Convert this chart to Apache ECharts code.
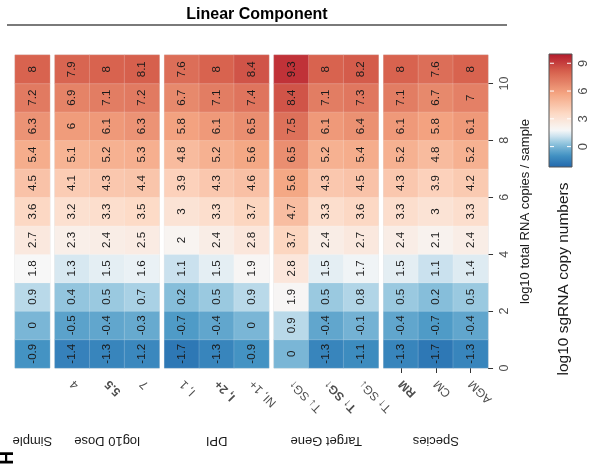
<!DOCTYPE html>
<html><head><meta charset="utf-8">
<script src="https://cdn.jsdelivr.net/npm/echarts@6/dist/echarts.min.js"></script>
<style>html,body{margin:0;padding:0;background:#fff}#c{width:590px;height:465px}</style>
</head><body><div id="c"></div>
<script>
// ---------- data ----------
const rowCats = ['0','1','2','3','4','5','6','7','8','9','10'];
const facetNames = ['Simple', 'log10 Dose', 'DPI', 'Target Gene', 'Species'];
const simpleCats = [''];
const doseCats = ['4', '5.5', '7'];
const dpiCats = ['I, 1', 'I, 2+', 'NI, 1+'];
const targetCats = ['T↓ SG↑', 'T↑ SG↑', 'T↑ SG↓'];
const speciesCats = ['RM', 'CM', 'AGM'];
const boldCats = ['5.5', 'I, 2+', 'T↑ SG↑', 'RM'];
// values from bottom row (0) to top row (10)
const simpleVals = [[-0.9, 0, 0.9, 1.8, 2.7, 3.6, 4.5, 5.4, 6.3, 7.2, 8]];
const doseVals = [
  [-1.4, -0.5, 0.4, 1.3, 2.3, 3.2, 4.1, 5.1, 6, 6.9, 7.9],
  [-1.3, -0.4, 0.5, 1.5, 2.4, 3.3, 4.3, 5.2, 6.1, 7.1, 8],
  [-1.2, -0.3, 0.7, 1.6, 2.5, 3.5, 4.4, 5.3, 6.3, 7.2, 8.1]
];
const dpiVals = [
  [-1.7, -0.7, 0.2, 1.1, 2, 3, 3.9, 4.8, 5.8, 6.7, 7.6],
  [-1.3, -0.4, 0.5, 1.5, 2.4, 3.3, 4.3, 5.2, 6.1, 7.1, 8],
  [-0.9, 0, 0.9, 1.9, 2.8, 3.7, 4.6, 5.6, 6.5, 7.4, 8.4]
];
const targetVals = [
  [0, 0.9, 1.9, 2.8, 3.7, 4.7, 5.6, 6.5, 7.5, 8.4, 9.3],
  [-1.3, -0.4, 0.5, 1.5, 2.4, 3.3, 4.3, 5.2, 6.1, 7.1, 8],
  [-1.1, -0.1, 0.8, 1.7, 2.7, 3.6, 4.5, 5.4, 6.4, 7.3, 8.2]
];
const speciesVals = [
  [-1.3, -0.4, 0.5, 1.5, 2.4, 3.3, 4.3, 5.2, 6.1, 7.1, 8],
  [-1.7, -0.7, 0.2, 1.1, 2.1, 3, 3.9, 4.8, 5.8, 6.7, 7.6],
  [-1.3, -0.4, 0.5, 1.4, 2.4, 3.3, 4.2, 5.2, 6.1, 7, 8]
];
const yTicks = [0, 2, 4, 6, 8, 10];
const legendTicks = [0, 3, 6, 9];
const colorMin = -2.2, colorMax = 10;

// ---------- styling ----------
const FONT = '"Liberation Sans", Arial, Helvetica, sans-serif';
const colorStops = [
  [-2.2, [33, 102, 172]], [-0.9, [67, 147, 195]], [0.4, [146, 197, 222]],
  [1.2, [209, 229, 240]], [1.8, [247, 247, 247]], [3.5, [253, 219, 199]],
  [5.7, [244, 165, 130]], [8.1, [214, 96, 77]], [10, [178, 24, 43]]
];
function colorAt(v) {
  if (v <= colorStops[0][0]) return colorStops[0][1];
  for (let i = 1; i < colorStops.length; i++) {
    if (v <= colorStops[i][0]) {
      const a = colorStops[i-1], b = colorStops[i];
      const t = (v - a[0]) / (b[0] - a[0]);
      return a[1].map((c, k) => Math.round(c + t * (b[1][k] - c)));
    }
  }
  return colorStops[colorStops.length-1][1];
}
const rgb = c => 'rgb(' + c.join(',') + ')';
const N = 120;
const rangeColors = [];
for (let i = 0; i < N; i++) rangeColors.push(rgb(colorAt(colorMin + (colorMax - colorMin) * i / (N - 1))));

const panels = [
  {cats: simpleCats, vals: simpleVals, name: facetNames[0]},
  {cats: doseCats, vals: doseVals, name: facetNames[1]},
  {cats: dpiCats, vals: dpiVals, name: facetNames[2]},
  {cats: targetCats, vals: targetVals, name: facetNames[3]},
  {cats: speciesCats, vals: speciesVals, name: facetNames[4]}
];
const colW = 34.85, gapW = 5, x0 = 15, panelTop = 55, panelH = 313;

const grids = [], xAxes = [], yAxes = [], series = [];
let xLeft = x0;
panels.forEach((p, i) => {
  const w = colW * p.cats.length;
  grids.push({left: xLeft, top: panelTop, width: w, height: panelH, show: true, borderColor: '#dcdcdc', borderWidth: 1, backgroundColor: '#ebebeb'});
  xLeft += w + gapW;
  const isLast = i === panels.length - 1;
  xAxes.push({
    type: 'category', gridIndex: i, data: p.cats, position: 'bottom',
    axisLine: {show: false},
    axisTick: {show: isLast, alignWithLabel: true, length: 5, lineStyle: {color: '#333', width: 1}},
    splitLine: {show: false},
    axisLabel: {
      rotate: 135, align: 'right', verticalAlign: 'middle', margin: 14,
      fontFamily: FONT, fontSize: 12, color: '#4d4d4d',
      formatter: v => boldCats.includes(v) ? '{b|' + v + '}' : v,
      rich: {b: {fontWeight: 'bold', fontFamily: FONT, fontSize: 12, color: '#4d4d4d'}}
    },
    name: p.name, nameLocation: 'middle', nameGap: 66, nameRotate: 180,
    nameTextStyle: {fontFamily: FONT, fontSize: 13, color: '#1a1a1a'}
  });
  yAxes.push({
    type: 'category', gridIndex: i, data: rowCats,
    axisLine: {show: false}, axisTick: {show: false}, axisLabel: {show: false}, splitLine: {show: false}
  });
  const data = [];
  p.vals.forEach((col, ci) => col.forEach((v, ri) => data.push([ci, ri, v])));
  series.push({
    type: 'heatmap', xAxisIndex: i, yAxisIndex: i, data: data,
    itemStyle: {borderColor: 'rgba(255,255,255,0.35)', borderWidth: 0.5},
    label: {show: true, rotate: 90, fontFamily: FONT, fontSize: 11.5, color: '#1a1a1a',
      formatter: prm => String(prm.value[2])},
    emphasis: {disabled: true}
  });
});
// right value axis on the last panel
yAxes.push({
  type: 'value', gridIndex: panels.length - 1, position: 'right', min: 0, max: 11,
  axisLine: {show: false}, splitLine: {show: false},
  axisTick: {show: true, length: 5, customValues: yTicks, lineStyle: {color: '#333'}},
  axisLabel: {show: true, customValues: yTicks, rotate: 90, margin: 10, fontFamily: FONT, fontSize: 12.5, color: '#4d4d4d'},
  name: 'log10 total RNA copies / sample', nameLocation: 'middle', nameRotate: 90, nameGap: 31,
  nameTextStyle: {fontFamily: FONT, fontSize: 13, color: '#1a1a1a'}
});
// colour bar grid
const cbIndex = grids.length;
grids.push({left: 549, top: 54, width: 23, height: 113});
xAxes.push({type: 'category', gridIndex: cbIndex, data: ['bar'], show: false});
const cbY = yAxes.length;
yAxes.push({
  type: 'value', gridIndex: cbIndex, position: 'right', min: colorMin, max: colorMax,
  axisLine: {show: false}, splitLine: {show: false}, axisTick: {show: false},
  axisLabel: {show: true, customValues: legendTicks, rotate: 90, margin: 5, fontFamily: FONT, fontSize: 13, color: '#4d4d4d'}
});
const gradStops = [];
for (let i = 0; i <= 40; i++) {
  const v = colorMax - (colorMax - colorMin) * i / 40;
  gradStops.push({offset: i / 40, color: rgb(colorAt(v))});
}
series.push({
  type: 'custom', xAxisIndex: cbIndex, yAxisIndex: cbY, data: [[0, colorMax]],
  silent: true,
  renderItem: (params, api) => {
    const pTop = api.coord([0, colorMax]);
    const pBot = api.coord([0, colorMin]);
    const bw = api.size([1, 0])[0];
    const x = pTop[0] - bw / 2;
    const children = [{
      type: 'rect', shape: {x: x, y: pTop[1], width: bw, height: pBot[1] - pTop[1]},
      style: {fill: {type: 'linear', x: 0, y: 0, x2: 0, y2: 1, colorStops: gradStops}, stroke: '#555', lineWidth: 1}
    }];
    legendTicks.forEach(t => {
      const py = api.coord([0, t])[1];
      children.push({type: 'line', shape: {x1: x + 1, y1: py, x2: x + 5, y2: py}, style: {stroke: '#fff', lineWidth: 1}});
      children.push({type: 'line', shape: {x1: x + bw - 5, y1: py, x2: x + bw - 1, y2: py}, style: {stroke: '#fff', lineWidth: 1}});
    });
    return {type: 'group', children: children};
  }
});

const chart = echarts.init(document.getElementById('c'), null, {renderer: 'canvas'});
chart.setOption({
  animation: false,
  backgroundColor: '#fff',
  textStyle: {fontFamily: FONT},
  grid: grids, xAxis: xAxes, yAxis: yAxes, series: series,
  visualMap: {
    type: 'continuous', show: false, min: colorMin, max: colorMax, dimension: 2,
    seriesIndex: panels.map((p, i) => i), inRange: {color: rangeColors}
  },
  graphic: [
    {type: 'text', x: 257, y: 15, style: {text: 'Linear Component', align: 'center', verticalAlign: 'middle', fontFamily: FONT, fontSize: 16, fontWeight: 'bold', fill: '#000'}},
    {type: 'line', shape: {x1: 7, y1: 25, x2: 507, y2: 25}, style: {stroke: '#7a7a7a', lineWidth: 2}},
    {type: 'text', x: 564, y: 279, rotation: Math.PI / 2, style: {text: 'log10 sgRNA copy numbers', align: 'center', verticalAlign: 'middle', fontFamily: FONT, fontSize: 15.5, fill: '#1a1a1a'}},
    {type: 'text', x: 8, y: 458, rotation: Math.PI / 2, style: {text: 'H', align: 'center', verticalAlign: 'middle', fontFamily: FONT, fontSize: 19, fontWeight: 'bold', fill: '#000'}}
  ]
});
</script>
</body></html>
